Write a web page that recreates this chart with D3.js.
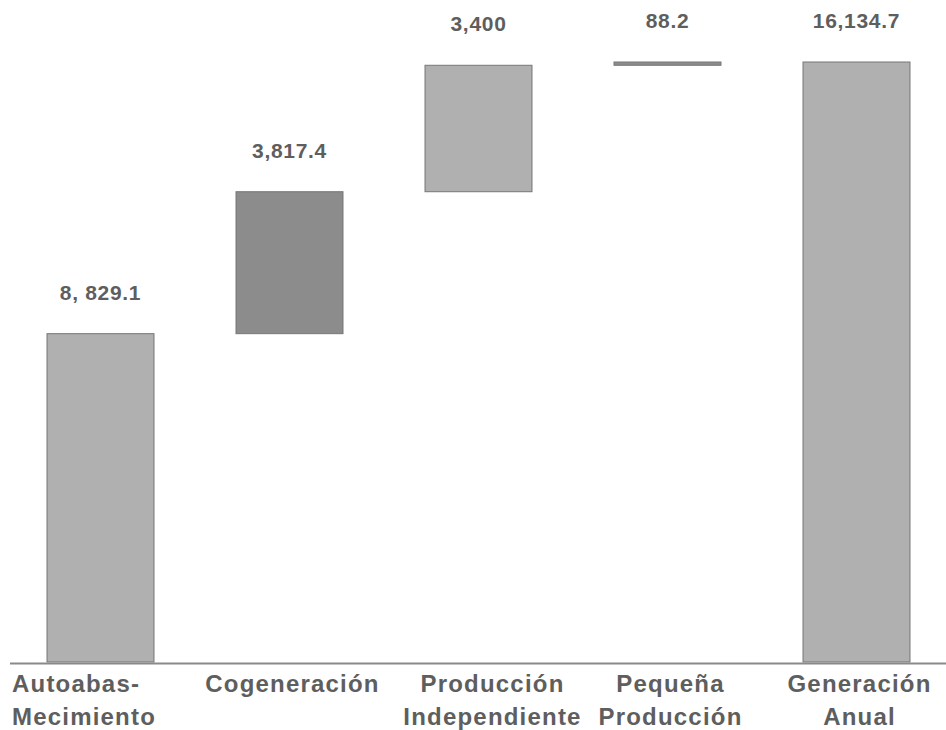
<!DOCTYPE html>
<html>
<head>
<meta charset="utf-8">
<script src="https://cdn.jsdelivr.net/npm/d3@7"></script>
<style>
  html, body { margin: 0; padding: 0; background: #fff; }
  svg { display: block; }
</style>
</head>
<body>
<svg id="chart" width="946" height="730"></svg>
<script>
// Waterfall of electricity generation by scheme (GWh)
const categories = ["Autoabas-\nMecimiento", "Cogeneración", "Producción\nIndependiente", "Pequeña\nProducción", "Generación\nAnual"];
const values = [8829.1, 3817.4, 3400, 88.2, 16134.7];
const valueLabels = ["8, 829.1", "3,817.4", "3,400", "88.2", "16,134.7"];
const isTotal = [false, false, false, false, true];
const shade = ["light", "dark", "light", "dark", "light"];

const W = 946, H = 730;
const baseY = 662, topY = 62;
const axisX0 = 10;
const font = "Liberation Sans, Arial, Helvetica, sans-serif";
const textColor = "#5e5e5e";

const svg = d3.select("#chart");

// running start/end for each step
let run = 0;
const steps = categories.map((c, i) => {
  const start = isTotal[i] ? 0 : run;
  const end = isTotal[i] ? values[i] : run + values[i];
  if (!isTotal[i]) run = end;
  return { cat: c, start, end, label: valueLabels[i], shade: shade[i] };
});

const x = d3.scaleBand()
  .domain(categories)
  .range([6, 951])
  .paddingInner(0.434)
  .paddingOuter(0.217);

const y = d3.scaleLinear()
  .domain([0, d3.max(values)])
  .range([baseY, topY]);

const fills = { light: "#b0b0b0", dark: "#8c8c8c" };

svg.append("g")
  .selectAll("rect")
  .data(steps)
  .join("rect")
  .attr("x", d => x(d.cat))
  .attr("width", x.bandwidth())
  .attr("y", d => y(d.end))
  .attr("height", d => Math.max(1, y(d.start) - y(d.end)))
  .attr("fill", d => fills[d.shade])
  .attr("stroke", "#767676")
  .attr("stroke-width", 1);

// baseline
svg.append("line")
  .attr("x1", axisX0).attr("x2", W)
  .attr("y1", baseY + 1.5).attr("y2", baseY + 1.5)
  .attr("stroke", "#8a8a8a")
  .attr("stroke-width", 2);

// value labels
svg.append("g")
  .selectAll("text")
  .data(steps)
  .join("text")
  .attr("x", d => x(d.cat) + x.bandwidth() / 2)
  .attr("y", d => y(d.end) - 34)
  .attr("text-anchor", "middle")
  .attr("font-family", font)
  .attr("font-weight", "bold")
  .attr("font-size", 21)
  .attr("letter-spacing", 0.7)
  .attr("fill", textColor)
  .text(d => d.label);

// category labels: the first one starts at the axis edge, the rest are centred
const catG = svg.append("g")
  .selectAll("text")
  .data(categories)
  .join("text")
  .attr("x", (d, i) => i === 0 ? axisX0 + 2 : x(d) + x.bandwidth() / 2 + (i === 2 ? 14 : 3))
  .attr("y", 692)
  .attr("text-anchor", (d, i) => i === 0 ? "start" : "middle")
  .attr("font-family", font)
  .attr("font-weight", "bold")
  .attr("font-size", 24)
  .attr("letter-spacing", 1.2)
  .attr("fill", textColor);

catG.selectAll("tspan")
  .data(d => d.split("\n"))
  .join("tspan")
  .attr("x", function () { return this.parentNode.getAttribute("x"); })
  .attr("dy", (d, i) => i === 0 ? 0 : 33)
  .text(d => d);
</script>
</body>
</html>
